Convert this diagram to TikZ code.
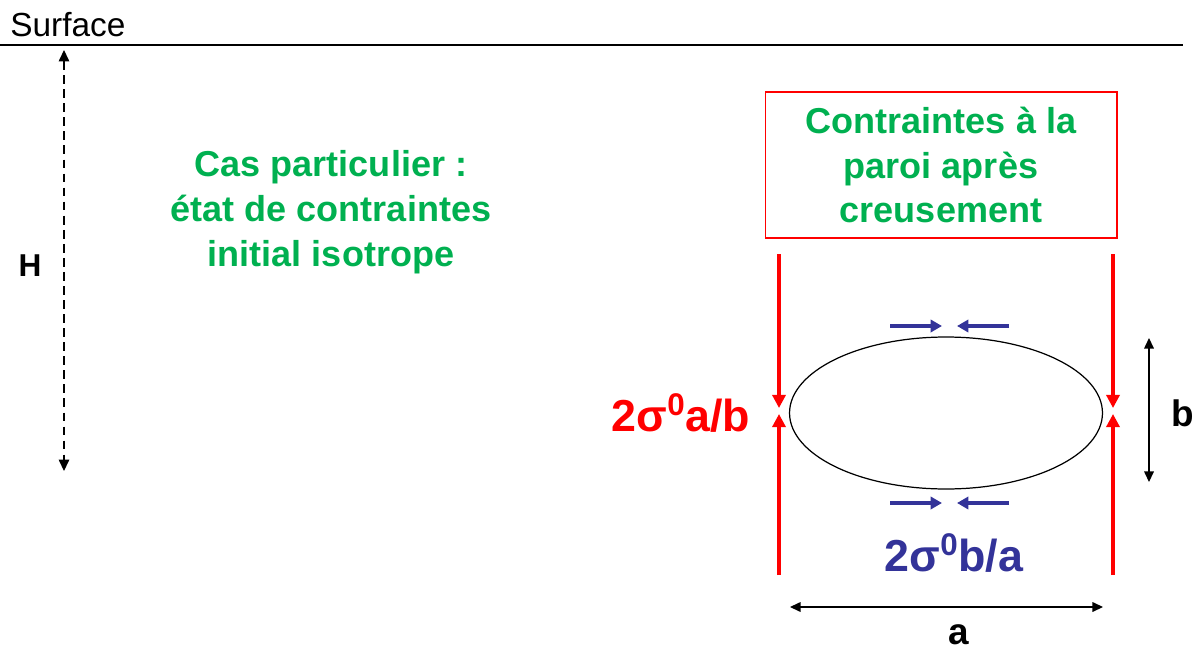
\documentclass[tikz,border=0pt]{standalone}
\usepackage{fontspec}
\setmainfont{Liberation Sans}
\usepackage{xcolor}
\usepackage{tikz}
\usetikzlibrary{arrows.meta, positioning, shapes.geometric}

\definecolor{vert}{RGB}{0,176,80}
\definecolor{bleu}{RGB}{51,51,153}

\tikzset{
    titre/.style={text=vert, font=\bfseries\fontsize{20.5}{25.5}\selectfont, align=center},
    contr/.style={red, line width=1.8pt, -{Triangle[width=7.5pt,length=7.5pt]}},
    pousse/.style={bleu, line width=1.8pt, -{Triangle[width=7pt,length=6.5pt]}},
    cote/.style={line width=0.7pt, {Triangle[width=5.5pt,length=6pt]}-{Triangle[width=5.5pt,length=6pt]}},
    lettre/.style={font=\bfseries\fontsize{21}{24}\selectfont, inner sep=0, text depth=0pt},
}

\begin{document}
\begin{tikzpicture}[x=0.02cm, y=-0.02cm]
        \useasboundingbox (0,0) rectangle (1203,652);
        % surface et profondeur
        \node[anchor=base west, inner sep=0, font=\fontsize{19}{20}\selectfont] (surf) at (10,37) {Surface};
        \coordinate (s0) at (0,45);
        \coordinate (s1) at (1183,45);
        \draw[line width=1.1pt] (s0) -- (s1);
        \coordinate (h0) at (64,50);
        \coordinate (h1) at (64,471);
        \draw[line width=0.7pt, dash pattern=on 5pt off 3pt, {Triangle[width=6pt,length=6.5pt]}-{Triangle[width=6pt,length=6.5pt]}] (h0) -- (h1);
        \node[font=\bfseries\fontsize{18}{20}\selectfont] (H) at (30,266) {H};
%
        \node[titre] (cas) at (331,212) {Cas particulier :\\ état de contraintes\\ initial isotrope};
        \node[titre, draw=red, line width=0.6pt, minimum width=7.04cm, minimum height=2.92cm] (paroi) at (941,165) {Contraintes à la\\ paroi après\\ creusement};
%
        \node[draw, ellipse, line width=0.7pt, minimum width=6.26cm, minimum height=3.04cm, inner sep=0] (cav) at (946,413) {};
%
        \coordinate (g0) at (779,254);
        \coordinate (g1) at (779,408);
        \coordinate (g2) at (779,575);
        \coordinate (g3) at (779,414);
        \coordinate (d0) at (1113,254);
        \coordinate (d1) at (1113,408);
        \coordinate (d2) at (1113,575);
        \coordinate (d3) at (1113,414);
        \draw[contr] (g0) -- (g1);
        \draw[contr] (g2) -- (g3);
        \draw[contr] (d0) -- (d1);
        \draw[contr] (d2) -- (d3);
%
        \coordinate (t0) at (890,326);
        \coordinate (t1) at (942,326);
        \coordinate (t2) at (1009,326);
        \coordinate (t3) at (957,326);
        \coordinate (b0) at (890,503);
        \coordinate (b1) at (942,503);
        \coordinate (b2) at (1009,503);
        \coordinate (b3) at (957,503);
        \draw[pousse] (t0) -- (t1);
        \draw[pousse] (t2) -- (t3);
        \draw[pousse] (b0) -- (b1);
        \draw[pousse] (b2) -- (b3);
%
        \node[text=red, font=\bfseries\fontsize{25.5}{28}\selectfont] (sa) at (681,413) {2σ\textsuperscript{0}a/b};
        \node[text=bleu, font=\bfseries\fontsize{25.5}{28}\selectfont] (sb) at (954,553) {2σ\textsuperscript{0}b/a};
%
        \coordinate (a0) at (790,607);
        \coordinate (a1) at (1103,607);
        \draw[cote] (a0) -- (a1);
        \node[lettre, anchor=base] (a) at (959,644) {a};
        \coordinate (v0) at (1149,338);
        \coordinate (v1) at (1149,482);
        \draw[cote] (v0) -- (v1);
        \node[lettre] (b) at (1183,413) {b};
\end{tikzpicture}
\end{document}
